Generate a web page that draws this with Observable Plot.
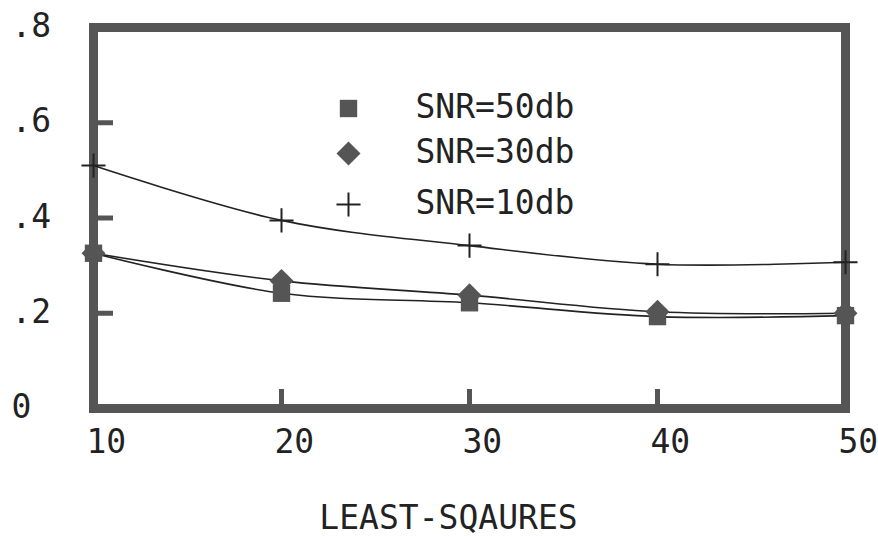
<!DOCTYPE html>
<html>
<head>
<meta charset="utf-8">
<script src="https://cdn.jsdelivr.net/npm/d3@7"></script>
<script src="https://cdn.jsdelivr.net/npm/@observablehq/plot@0.6"></script>
<style>
  html, body { margin: 0; padding: 0; background: #fff; }
</style>
</head>
<body>
<div id="chart"></div>
<script>
const xValues = [10, 20, 30, 40, 50];
const snr50 = [0.326, 0.242, 0.222, 0.193, 0.195];
const snr30 = [0.326, 0.268, 0.238, 0.203, 0.200];
const snr10 = [0.510, 0.395, 0.342, 0.303, 0.307];
const seriesNames = ["SNR=50db", "SNR=30db", "SNR=10db"];
const seriesSymbols = ["square", "diamond2", "plus"];
const xTicks = [10, 20, 30, 40, 50];
const xInnerTicks = [20, 30, 40];
const yTicks = [0, 0.2, 0.4, 0.6, 0.8];
const yInnerTicks = [0.2, 0.4, 0.6];
const yTickLabels = ["0", ".2", ".4", ".6", ".8"];
const xTitle = "LEAST-SQAURES";

const rows = xValues.map((x, i) => ({x, s50: snr50[i], s30: snr30[i], s10: snr10[i]}));

const markFill = "#555";
const ink = "#222";

const legendMarks = [];
const legendDy = [81, 126, 177];
const legendR = [9.8, 10.8, 7.8];
seriesNames.forEach((name, i) => {
  const isPlus = seriesSymbols[i] === "plus";
  legendMarks.push(Plot.dot([name], {
    frameAnchor: "top-left", dx: 255, dy: legendDy[i],
    symbol: seriesSymbols[i], r: legendR[i],
    fill: isPlus ? "none" : markFill,
    stroke: isPlus ? ink : "none",
    strokeWidth: 2
  }));
  legendMarks.push(Plot.text([name], {
    frameAnchor: "top-left", dx: 322, dy: legendDy[i] - 1,
    text: d => d, textAnchor: "start", lineAnchor: "middle", fill: ink
  }));
});

const chart = Plot.plot({
  width: 878,
  height: 537,
  marginLeft: 93,
  marginRight: 33,
  marginTop: 27,
  marginBottom: 129,
  x: {domain: [10, 50], axis: null},
  y: {domain: [0, 0.8], axis: null},
  style: {fontFamily: "'DejaVu Sans Mono', monospace", fontSize: "33px", background: "#fff", color: ink},
  marks: [
    Plot.frame({stroke: markFill, strokeWidth: 9}),
    Plot.ruleY(yInnerTicks, {y: d => d, insetRight: 732, stroke: markFill, strokeWidth: 5}),
    Plot.ruleX(xInnerTicks, {x: d => d, insetTop: 362, stroke: markFill, strokeWidth: 5}),
    Plot.text(yTicks, {y: d => d, text: (d, i) => yTickLabels[i], frameAnchor: "left", textAnchor: "start", lineAnchor: "middle", dx: -82, dy: -1, fill: ink}),
    Plot.text(xTicks, {x: d => d, text: d => String(d), frameAnchor: "bottom", textAnchor: "start", lineAnchor: "middle", dx: -7, dy: 34, fill: ink}),
    Plot.text([xTitle], {text: d => d, frameAnchor: "bottom", lineAnchor: "middle", dx: -21, dy: 110, fill: ink}),
    Plot.line(rows, {x: "x", y: "s10", curve: "catmull-rom", stroke: ink, strokeWidth: 1.6}),
    Plot.line(rows, {x: "x", y: "s30", curve: "catmull-rom", stroke: ink, strokeWidth: 1.6}),
    Plot.line(rows, {x: "x", y: "s50", curve: "catmull-rom", stroke: ink, strokeWidth: 1.6}),
    Plot.dot(rows, {x: "x", y: "s50", symbol: "square", r: 9.8, fill: markFill}),
    Plot.dot(rows, {x: "x", y: "s30", symbol: "diamond2", r: 10.8, fill: markFill}),
    Plot.dot(rows, {x: "x", y: "s10", symbol: "plus", r: 7.8, stroke: ink, strokeWidth: 2}),
    ...legendMarks
  ]
});
document.getElementById("chart").appendChild(chart);
</script>
</body>
</html>
